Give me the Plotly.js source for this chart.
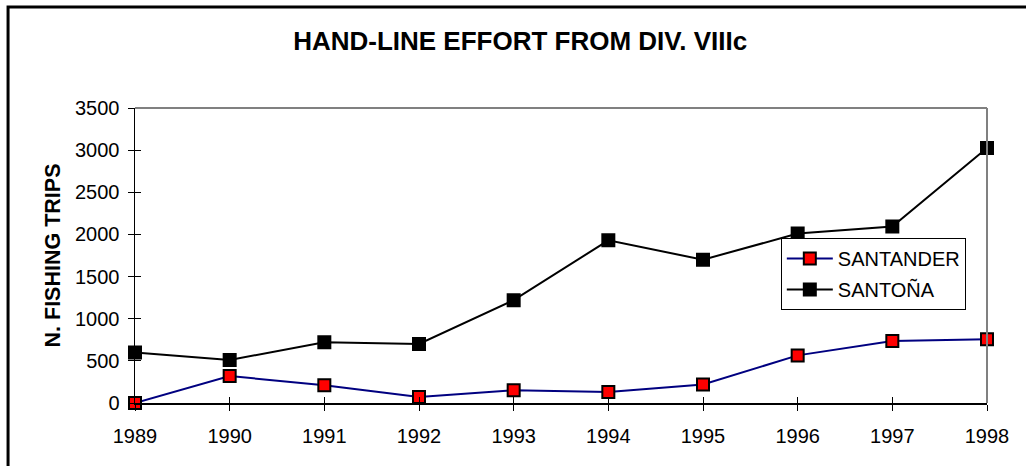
<!DOCTYPE html>
<html><head><meta charset="utf-8">
<script src="https://cdn.plot.ly/plotly-3.0.1.min.js"></script>
<style>html,body{margin:0;padding:0;background:#fff}#chart{width:1026px;height:466px}</style>
</head><body><div id="chart"></div>
<script>
const years = [1989,1990,1991,1992,1993,1994,1995,1996,1997,1998];
const santander = [0,320,210,70,150,130,220,565,735,755];
const santona = [600,510,720,700,1220,1930,1700,2010,2095,3025];
const yTicks = [0,500,1000,1500,2000,2500,3000,3500];

const FAM = 'Liberation Sans, Arial, sans-serif';
const traces = [
  {x: years, y: santander, name: 'SANTANDER', legendgroup: 'a', mode: 'lines+markers', cliponaxis: false,
   line: {color: '#000080', width: 2},
   marker: {symbol: 'square', size: 12, color: '#ff0000', line: {color: '#000', width: 2}}},
  {x: years, y: santona, name: 'SANTOÑA', legendgroup: 'b', mode: 'lines+markers', cliponaxis: false,
   line: {color: '#000', width: 2},
   marker: {symbol: 'square', size: 12, color: '#000', line: {color: '#000', width: 2}}}
];

const tickFont = {family: FAM, size: 20, color: '#000'};
const layout = {
  width: 1026, height: 466,
  margin: {l: 135, r: 39, t: 108, b: 63},
  paper_bgcolor: '#fff', plot_bgcolor: '#fff',
  font: tickFont,
  showlegend: true,
  title: {text: '<b>HAND-LINE EFFORT FROM DIV. VIIIc</b>', x: 0.507, xanchor: 'center', y: 0.912, yanchor: 'middle',
          font: {family: FAM, size: 26, color: '#000'}},
  xaxis: {range: [1989, 1998], tickvals: years, ticktext: years.map(String), showgrid: false, zeroline: false,
          showline: true, linecolor: '#000', linewidth: 1.5, ticks: 'outside', ticklen: 6, tickwidth: 1, tickcolor: '#000',
          tickfont: tickFont, ticklabelstandoff: 8},
  yaxis: {range: [0, 3500], tickvals: yTicks, ticktext: yTicks.map(String), showgrid: false, zeroline: false,
          showline: true, linecolor: '#000', linewidth: 1.5, ticks: 'outside', ticklen: 6, tickwidth: 1, tickcolor: '#000',
          tickfont: tickFont, ticklabelstandoff: 4,
          title: {text: '<b>N. FISHING TRIPS</b>', standoff: 8, font: {family: FAM, size: 21.5, color: '#000'}}},
  xaxis2: {overlaying: 'x', range: [1989, 1998], tickvals: years, showticklabels: false, showgrid: false, zeroline: false,
           ticks: 'inside', ticklen: 6, tickwidth: 1, tickcolor: '#000', anchor: 'y'},
  yaxis2: {overlaying: 'y', range: [0, 3500], tickvals: yTicks, showticklabels: false, showgrid: false, zeroline: false,
           ticks: 'inside', ticklen: 6, tickwidth: 1, tickcolor: '#000', anchor: 'x', side: 'left'},
  legend: {x: 0.758, y: 0.559, xanchor: 'left', yanchor: 'top', bgcolor: '#fff', bordercolor: '#000', borderwidth: 1,
           font: {family: FAM, size: 20, color: '#000'}, traceorder: 'grouped', tracegroupgap: 2, itemwidth: 46},
  shapes: [
    {type: 'line', xref: 'paper', yref: 'paper', x0: 0, x1: 1, y0: 1, y1: 1, line: {color: '#808080', width: 2}},
    {type: 'line', xref: 'paper', yref: 'paper', x0: 1, x1: 1, y0: 0, y1: 1, line: {color: '#808080', width: 2}},
    {type: 'rect', xref: 'paper', yref: 'paper', x0: -0.149, x1: 1.06, y0: -0.25, y1: 1.342, line: {color: '#000', width: 3}, layer: 'below'}
  ]
};
traces.push({x: [1989], y: [0], xaxis: 'x2', yaxis: 'y2', mode: 'markers', marker: {opacity: 0}, showlegend: false, hoverinfo: 'skip'});
Plotly.newPlot('chart', traces, layout, {displayModeBar: false, staticPlot: true});
</script></body></html>
